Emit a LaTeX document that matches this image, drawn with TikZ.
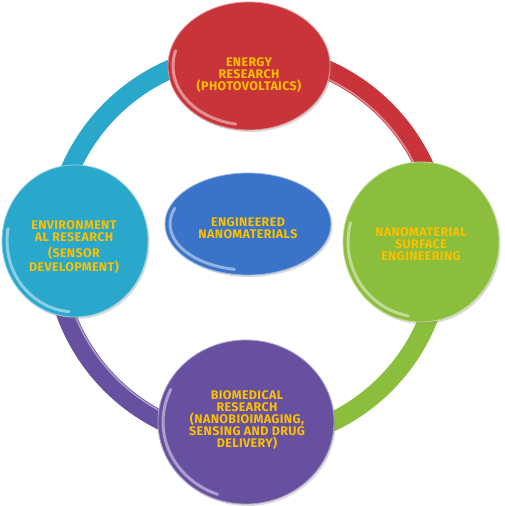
\documentclass[tikz,border=0pt]{standalone}
\usepackage{fontspec}
\newfontfamily\lblfont{Fira Sans}[LetterSpace=3]
\usetikzlibrary{shapes.geometric,shadows}

\definecolor{enred}{RGB}{200,52,58}
\definecolor{encyan}{RGB}{42,168,204}
\definecolor{engreen}{RGB}{140,190,62}
\definecolor{enpurple}{RGB}{104,80,160}
\definecolor{enblue}{RGB}{58,116,200}
\definecolor{engold}{RGB}{250,192,0}

\tikzset{
  disc/.style={ellipse, inner sep=0pt, fill=#1, draw=#1!55!white, line width=0.8pt,
    drop shadow={shadow xshift=1.5pt, shadow yshift=-2pt, opacity=.3}},
  gloss/.style={white, line width=3pt, opacity=.45, line cap=round},
  ringarc/.style={draw=#1, line width=19pt},
  rimline/.style={white, line width=1.5pt, opacity=.45},
  lbltext/.style={align=center, text=engold,
    font=\lblfont\bfseries\fontsize{12.5}{12}\selectfont},
}

\begin{document}
\begin{tikzpicture}[x=1pt,y=-1pt]
\useasboundingbox (0,0) rectangle (504,506);

% outer ring
\coordinate (hub) at (248,247);
\draw[ringarc=encyan] ([shift={(180:194)}]hub) arc[start angle=180, end angle=270, radius=194];
\draw[ringarc=enred] ([shift={(270:194)}]hub) arc[start angle=270, end angle=360, radius=194];
\draw[ringarc=engreen] ([shift={(0:194)}]hub) arc[start angle=0, end angle=90, radius=194];
\draw[ringarc=enpurple] ([shift={(90:194)}]hub) arc[start angle=90, end angle=180, radius=194];
\draw[rimline] ([shift={(275:186)}]hub) arc[start angle=275, end angle=355, radius=186];
\draw[rimline] ([shift={(95:186)}]hub) arc[start angle=95, end angle=175, radius=186];

% discs
\node[disc=enred, minimum width=162pt, minimum height=128pt] (energy) at (249,66) {};
\node[disc=encyan, minimum width=146pt, minimum height=152pt] (enviro) at (75,241) {};
\node[disc=engreen, minimum width=156pt, minimum height=160pt] (surface) at (421,242) {};
\node[disc=enpurple, minimum width=176pt, minimum height=164pt] (biomed) at (246,422) {};
\node[disc=enblue, minimum width=166pt, minimum height=102pt] (core) at (248,224) {};

% highlights
\draw[gloss] ([shift={(100:76 and 59)}]energy.center) arc[start angle=100, end angle=195, x radius=76, y radius=59];
\draw[gloss] ([shift={(95:68 and 71)}]enviro.center) arc[start angle=95, end angle=190, x radius=68, y radius=71];
\draw[gloss] ([shift={(100:73 and 75)}]surface.center) arc[start angle=100, end angle=195, x radius=73, y radius=75];
\draw[gloss] ([shift={(110:83 and 77)}]biomed.center) arc[start angle=110, end angle=205, x radius=83, y radius=77];
\draw[gloss] ([shift={(100:78 and 46)}]core.center) arc[start angle=100, end angle=200, x radius=78, y radius=46];

% texts
\node[lbltext] (energytxt) at (249,75) {ENERGY\\RESEARCH\\(PHOTOVOLTAICS)};
\node[lbltext] (envirotxt) at (74,247) {ENVIRONMENT\\AL RESEARCH\\[4pt](SENSOR\\DEVELOPMENT)};
\node[lbltext] (surfacetxt) at (421,244) {NANOMATERIAL\\SURFACE\\ENGINEERING};
\node[lbltext] (biomedtxt) at (247,420) {BIOMEDICAL\\RESEARCH\\(NANOBIOIMAGING,\\SENSING AND DRUG\\DELIVERY)};
\node[lbltext] (coretxt) at (248,228) {ENGINEERED\\NANOMATERIALS};
\end{tikzpicture}
\end{document}
